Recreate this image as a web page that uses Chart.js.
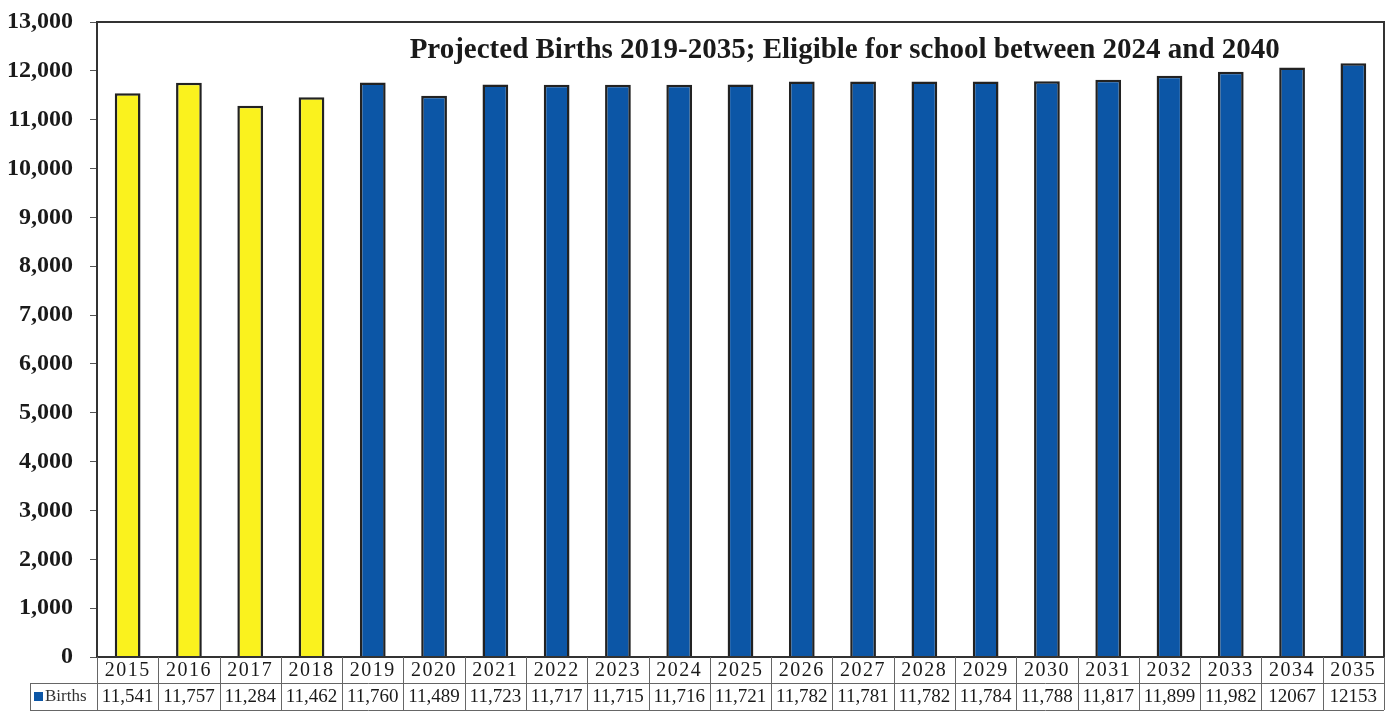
<!DOCTYPE html>
<html>
<head>
<meta charset="utf-8">
<script src="https://cdn.jsdelivr.net/npm/chart.js@4/dist/chart.umd.min.js"></script>
<style>
  html, body { margin: 0; padding: 0; background: #fff; }
  #wrap { width: 1390px; height: 711px; }
</style>
</head>
<body>
<div id="wrap"><canvas id="birthsChart" width="1390" height="711"></canvas></div>
<script>
// Births per year, 2015-2018 actual, 2019 onward projected
const years = ['2015', '2016', '2017', '2018', '2019', '2020', '2021', '2022', '2023', '2024', '2025',
  '2026', '2027', '2028', '2029', '2030', '2031', '2032', '2033', '2034', '2035'];
const births = [11541, 11757, 11284, 11462, 11760, 11489, 11723, 11717, 11715, 11716, 11721,
  11782, 11781, 11782, 11784, 11788, 11817, 11899, 11982, 12067, 12153];
const firstProjected = 2019;
const yTicks = [0, 1000, 2000, 3000, 4000, 5000, 6000, 7000, 8000, 9000, 10000, 11000, 12000, 13000];

const ACTUAL_COLOR = '#FAF21E';
const PROJECTED_COLOR = '#0C56A6';
const SERIF = "'Liberation Serif', 'DejaVu Serif', serif";

const barColors = years.map(y => (+y < firstProjected ? ACTUAL_COLOR : PROJECTED_COLOR));

// the last two values are printed without a thousands separator in the table
const tableValues = births.map((v, i) => (i >= births.length - 2 ? String(v) : v.toLocaleString('en-US')));

// frame + title inside the plot area
const framePlugin = {
  id: 'frame',
  afterDraw(chart) {
    const { ctx, chartArea } = chart;
    ctx.save();
    ctx.strokeStyle = '#333';
    ctx.lineWidth = 2;
    ctx.strokeRect(chartArea.left, chartArea.top, chartArea.right - chartArea.left, chartArea.bottom - chartArea.top);

    ctx.fillStyle = '#1a1a1a';
    ctx.font = 'bold 29px ' + SERIF;
    ctx.textAlign = 'center';
    ctx.textBaseline = 'middle';
    const cx = chartArea.left + (chartArea.right - chartArea.left) * 0.581;
    ctx.fillText('Projected Births 2019-2035; Eligible for school between 2024 and 2040', cx, chartArea.top + 29);
    ctx.restore();
  }
};

// data table under the bars
const tablePlugin = {
  id: 'dataTable',
  afterDraw(chart) {
    const { ctx, chartArea } = chart;
    const x = chart.scales.x;
    const colW = (chartArea.right - chartArea.left) / years.length;
    const top = chartArea.bottom;
    const mid = top + 26;
    const bottom = top + 53;
    const labelLeft = 30;

    ctx.save();
    ctx.strokeStyle = '#666';
    ctx.lineWidth = 1;
    ctx.beginPath();
    ctx.moveTo(labelLeft, mid + 0.5); ctx.lineTo(chartArea.right, mid + 0.5);
    ctx.moveTo(labelLeft, bottom + 0.5); ctx.lineTo(chartArea.right, bottom + 0.5);
    ctx.moveTo(labelLeft + 0.5, mid); ctx.lineTo(labelLeft + 0.5, bottom);
    for (let i = 0; i <= years.length; i++) {
      const edge = Math.round(chartArea.left + i * colW) + 0.5;
      ctx.moveTo(edge, top); ctx.lineTo(edge, bottom);
    }
    ctx.stroke();

    ctx.fillStyle = '#1a1a1a';
    ctx.textAlign = 'center';
    ctx.textBaseline = 'middle';
    years.forEach((y, i) => {
      const cx = x.getPixelForValue(i);
      ctx.font = '20px ' + SERIF;
      ctx.letterSpacing = '1.5px';
      ctx.fillText(y, cx, top + 14);
      ctx.letterSpacing = '0px';
      ctx.font = '19px ' + SERIF;
      ctx.fillText(tableValues[i], cx, mid + 14);
    });

    // legend key
    ctx.fillStyle = PROJECTED_COLOR;
    ctx.fillRect(34, mid + 9, 9, 9);
    ctx.fillStyle = '#333';
    ctx.textAlign = 'left';
    ctx.font = '17px ' + SERIF;
    ctx.fillText('Births', 45, mid + 14);
    ctx.restore();
  }
};

const ctx = document.getElementById('birthsChart').getContext('2d');
new Chart(ctx, {
  type: 'bar',
  data: {
    labels: years,
    datasets: [{
      label: 'Births',
      data: births,
      backgroundColor: barColors,
      borderColor: '#222',
      borderWidth: 2.5,
      borderSkipped: 'bottom',
      categoryPercentage: 1,
      barPercentage: 0.42
    }]
  },
  options: {
    responsive: false,
    animation: false,
    layout: { padding: { top: 22, right: 6, bottom: 54, left: 0 } },
    plugins: {
      legend: { display: false },
      title: { display: false },
      tooltip: { enabled: false }
    },
    scales: {
      x: { display: false },
      y: {
        min: 0,
        max: 13000,
        afterFit(scale) {
          scale.width = 97;
          scale.paddingTop = 0;
          scale.paddingBottom = 0;
        },
        afterBuildTicks(scale) { scale.ticks = yTicks.map(v => ({ value: v })); },
        grid: { drawOnChartArea: false, drawTicks: true, tickLength: 7, color: '#555', lineWidth: 1 },
        border: { display: true, color: '#333', width: 2 },
        ticks: {
          padding: 17,
          color: '#1a1a1a',
          font: { family: SERIF, size: 24, weight: 'bold' },
          callback: v => v.toLocaleString('en-US')
        }
      }
    }
  },
  plugins: [framePlugin, tablePlugin]
});
</script>
</body>
</html>
